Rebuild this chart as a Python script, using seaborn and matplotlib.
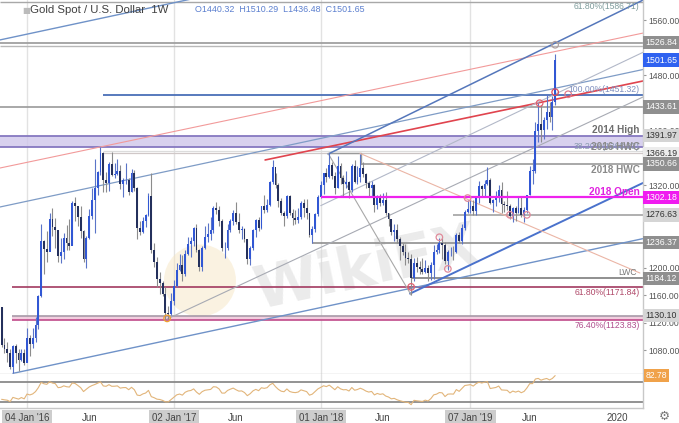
import numpy as np
import pandas as pd
import matplotlib
matplotlib.use('Agg')
import matplotlib.pyplot as plt
import matplotlib.transforms as mtransforms
from matplotlib.patches import Ellipse
import seaborn as sns

# weekly candles, first week = Mon 02 Nov 2015
start = pd.Timestamp('2015-11-02')
first_open = 1142.0
last_open = 1440.32

close_2015 = [1088, 1081, 1076, 1056, 1086, 1075, 1065, 1076, 1061]
high_2015 = [1143, 1097, 1092, 1081, 1088, 1089, 1081, 1081, 1082]
low_2015 = [1084, 1075, 1062, 1052, 1046, 1061, 1049, 1064, 1058]

close_2016 = [1098, 1089, 1097, 1117, 1158, 1239, 1227, 1222, 1271, 1259, 1254, 1217, 1222,
              1243, 1235, 1232, 1294, 1290, 1273, 1253, 1213, 1243, 1275, 1298, 1316, 1339,
              1366, 1327, 1323, 1351, 1335, 1336, 1341, 1321, 1327, 1328, 1310, 1337, 1316,
              1257, 1251, 1267, 1276, 1304, 1225, 1208, 1183, 1177, 1161, 1134, 1133, 1152]
high_2016 = [1112, 1102, 1112, 1128, 1160, 1263, 1240, 1253, 1280, 1287, 1272, 1255, 1243,
             1250, 1262, 1271, 1297, 1303, 1285, 1289, 1255, 1246, 1285, 1315, 1358, 1340,
             1375, 1368, 1339, 1353, 1368, 1352, 1358, 1349, 1330, 1352, 1330, 1344, 1342,
             1317, 1267, 1273, 1278, 1308, 1338, 1236, 1216, 1194, 1181, 1172, 1144, 1163]
low_2016 = [1062, 1071, 1083, 1091, 1111, 1157, 1191, 1208, 1226, 1246, 1228, 1208, 1206,
            1212, 1226, 1225, 1233, 1268, 1260, 1243, 1208, 1200, 1242, 1271, 1250, 1306,
            1334, 1310, 1310, 1311, 1333, 1330, 1334, 1314, 1302, 1322, 1306, 1310, 1312,
            1241, 1248, 1250, 1259, 1275, 1221, 1201, 1171, 1161, 1158, 1123, 1125, 1131]

close_2017 = [1173, 1196, 1204, 1191, 1220, 1234, 1239, 1257, 1226, 1201, 1229, 1245, 1249,
              1254, 1286, 1284, 1268, 1228, 1228, 1254, 1268, 1280, 1266, 1254, 1256, 1242,
              1212, 1228, 1254, 1269, 1258, 1289, 1284, 1291, 1325, 1346, 1320, 1297, 1280,
              1275, 1304, 1280, 1272, 1269, 1274, 1294, 1287, 1280, 1248, 1256, 1278, 1303]
high_2017 = [1182, 1207, 1219, 1218, 1226, 1245, 1244, 1259, 1264, 1227, 1231, 1261, 1265,
             1273, 1289, 1295, 1289, 1271, 1237, 1264, 1270, 1283, 1296, 1280, 1260, 1258,
             1242, 1231, 1256, 1270, 1274, 1290, 1306, 1300, 1326, 1357, 1337, 1323, 1301,
             1282, 1306, 1306, 1285, 1284, 1287, 1297, 1299, 1299, 1280, 1261, 1280, 1305]
low_2017 = [1146, 1172, 1195, 1180, 1188, 1218, 1216, 1232, 1223, 1195, 1195, 1227, 1237,
            1240, 1250, 1278, 1261, 1224, 1214, 1226, 1251, 1262, 1263, 1250, 1241, 1237,
            1205, 1204, 1225, 1245, 1253, 1256, 1280, 1281, 1290, 1322, 1316, 1288, 1277,
            1260, 1272, 1276, 1262, 1263, 1265, 1271, 1274, 1271, 1244, 1236, 1252, 1275]

close_2018 = [1320, 1338, 1332, 1349, 1333, 1315, 1347, 1330, 1322, 1324, 1313, 1347, 1325,
              1332, 1345, 1336, 1323, 1315, 1320, 1291, 1302, 1294, 1298, 1279, 1270, 1252,
              1255, 1241, 1231, 1223, 1214, 1212, 1184.12, 1206, 1201, 1198, 1194, 1200, 1192,
              1203, 1222, 1226, 1235, 1233, 1209, 1222, 1223, 1222, 1248, 1238, 1257, 1281]
high_2018 = [1326, 1338, 1345, 1366, 1354, 1339, 1362, 1352, 1335, 1341, 1326, 1350, 1356,
             1348, 1365, 1354, 1338, 1326, 1326, 1322, 1306, 1307, 1308, 1310, 1280, 1271,
             1263, 1263, 1245, 1236, 1234, 1223, 1220, 1214, 1215, 1209, 1214, 1211, 1204,
             1208, 1233, 1234, 1243, 1243, 1237, 1226, 1230, 1231, 1250, 1251, 1263, 1283]
low_2018 = [1301, 1307, 1325, 1330, 1329, 1307, 1315, 1321, 1302, 1316, 1301, 1310, 1323,
            1322, 1325, 1331, 1315, 1302, 1304, 1281, 1285, 1289, 1291, 1276, 1261, 1247,
            1238, 1236, 1211, 1218, 1204, 1206, 1160, 1180, 1193, 1191, 1191, 1192, 1180,
            1182, 1183, 1220, 1221, 1212, 1205, 1196, 1217, 1211, 1221, 1236, 1234, 1255]

close_2019 = [1285, 1289, 1282, 1303, 1318, 1314, 1322, 1328, 1294, 1298, 1302, 1313, 1292,
              1291, 1290, 1275, 1286, 1280, 1286, 1277, 1284, 1305, 1341, 1341, 1399, 1409,
              1400, 1415, 1426, 1419, 1441, 1501.65]
high_2019 = [1298, 1298, 1298, 1304, 1326, 1320, 1327, 1346, 1330, 1299, 1311, 1320, 1325,
             1297, 1311, 1292, 1288, 1289, 1304, 1303, 1288, 1306, 1348, 1358, 1411, 1439,
             1437, 1419, 1453, 1441, 1449, 1510.29]
low_2019 = [1279, 1279, 1276, 1277, 1294, 1303, 1302, 1320, 1292, 1281, 1290, 1296, 1280,
            1281, 1284, 1270, 1266, 1267, 1279, 1273, 1266, 1279, 1306, 1322, 1338, 1382,
            1382, 1387, 1401, 1412, 1400, 1436.48]

# closes before the first candle, only to warm up the RSI
rsi_warmup = [1172, 1168, 1157, 1132, 1085, 1095, 1094, 1113, 1160, 1134, 1121, 1104,
              1137, 1146, 1137, 1156, 1177, 1163, 1142]

closes = close_2015 + close_2016 + close_2017 + close_2018 + close_2019
highs = high_2015 + high_2016 + high_2017 + high_2018 + high_2019
lows = low_2015 + low_2016 + low_2017 + low_2018 + low_2019

df = pd.DataFrame({'close': closes, 'high': highs, 'low': lows})
df['open'] = df['close'].shift(1)
df.loc[0, 'open'] = first_open
df.loc[len(df) - 1, 'open'] = last_open
df['week'] = np.arange(len(df))

s = pd.Series(rsi_warmup + closes, dtype=float)
d = s.diff()
gain = d.clip(lower=0).ewm(alpha=1 / 14, adjust=False).mean()
loss = (-d.clip(upper=0)).ewm(alpha=1 / 14, adjust=False).mean()
df['rsi'] = (100 - 100 / (1 + gain / loss)).iloc[len(rsi_warmup):].values

# levels with a box on the price scale
box_prices = [1526.84, 1433.61, 1391.97, 1366.19, 1350.66, 1276.63, 1236.37, 1184.12, 1130.10]
box_face = ['#8f8f8f', '#8f8f8f', '#d5d5d5', '#ececec', '#8f8f8f', '#d5d5d5', '#8f8f8f', '#8f8f8f', '#d5d5d5']
box_text = ['white', 'white', '#333333', '#333333', 'white', '#333333', 'white', 'white', '#333333']
last_price = 1501.65
open_2018 = 1302.18
scale_ticks = [1080, 1120, 1160, 1200, 1320, 1400, 1480, 1560]

fib_prices = [1586.71, 1451.32, 1368.83, 1171.84, 1123.83]
fib_labels = ['61.80%(1586.71)', '100.00%(1451.32)', '38.20%(1368.83)', '61.80%(1171.84)', '76.40%(1123.83)']
fib_colors = ['#7f9c9c', '#7f8fbf', '#8a9ab0', '#b04a6a', '#b0508e']

# trend lines: week0, price0, week1, price1
trend_lines = [
    (4, 1046, 227.1, 1242, '#6f92c8', 1.0),
    (-0.6, 1288, 227.1, 1488, '#7f9cc6', 0.9),
    (-0.6, 1531, 227.1, 1731, '#6f92c8', 1.0),
    (-0.6, 1344.7, 227.1, 1541, '#f29a9a', 0.8),
    (93.3, 1356.4, 227.1, 1471.3, '#e0444e', 1.2),
    (115.6, 1365, 227.1, 1589, '#5577bb', 1.1),
    (144.6, 1162, 227.1, 1323, '#4a72cc', 1.4),
    (58.6, 1125, 227.1, 1448, '#a7aab3', 0.8),
    (113, 1290, 227.1, 1513, '#b2b8c8', 0.8),
    (115.6, 1366, 145, 1160, '#a8a8a8', 0.8),
    (126.9, 1366, 226, 1192, '#ebb5a5', 0.8),
]

marker_weeks = [190.5, 196, 200.6, 196, 58.6, 145, 155, 158, 165, 180, 186]
marker_prices = [1439, 1455, 1452, 1524, 1126, 1171.8, 1244, 1198, 1301, 1276.6, 1276.6]
marker_colors = ['#e06070', '#e04a5a', '#e07a8a', '#b0a0a0', '#f0a030', '#e06070',
                 '#e08a9a', '#e08a9a', '#e08a9a', '#e08a9a', '#e08a9a']

x_min, x_max = -0.57, 227.1
y_min, y_max = 1045.1, 1589.1

sns.set_theme(style='white')
plt.rcParams['font.family'] = ['Liberation Sans', 'DejaVu Sans']

fig = plt.figure(figsize=(6.79, 4.23), dpi=100)
ax = fig.add_axes([0, 1 - 374 / 423, 643 / 679, 374 / 423])
ax2 = fig.add_axes([0, 1 - 408 / 423, 643 / 679, 34 / 423])

for a in (ax, ax2):
    a.set_xlim(x_min, x_max)
    for sp in ('left', 'top'):
        a.spines[sp].set_visible(False)
    for sp in ('right', 'bottom'):
        a.spines[sp].set_color('#c8c8c8')
        a.spines[sp].set_linewidth(1)

ax.set_ylim(y_min, y_max)

# year grid lines
year_dates = ['2016-01-04', '2017-01-02', '2018-01-01', '2019-01-07']
year_labels = ["04 Jan '16", "02 Jan '17", "01 Jan '18", "07 Jan '19"]
jun_dates = ['2016-06-06', '2017-06-05', '2018-06-04', '2019-06-03']
yw = [(pd.Timestamp(t) - start).days / 7 for t in year_dates]
jw = [(pd.Timestamp(t) - start).days / 7 for t in jun_dates]
w2020 = (pd.Timestamp('2020-01-06') - start).days / 7
for a in (ax, ax2):
    for w in yw:
        a.axvline(w, color='#e2e2e2', lw=1, zorder=0)


def hline(price, w0, color, lw, z=2):
    ax.plot([w0, x_max], [price, price], color=color, lw=lw, zorder=z, solid_capstyle='butt')


# bands
ax.fill_between([x_min, x_max], 1376, 1391.97, color='#cfc6ea', alpha=0.8, zorder=1.5, lw=0)
hline(1391.97, x_min, '#8678c0', 1.3)
hline(1376, x_min, '#8678c0', 1.3)
ax.fill_between([3.7, x_max], 1123.83, 1130.10, color='#f1c9dc', alpha=0.9, zorder=1.5, lw=0)
hline(1130.10, 3.7, '#a89aa8', 1.2)
hline(1123.83, 3.7, '#c04a8a', 1.2)
hline(1171.84, 3.7, '#a23a60', 1.2)

# horizontal levels
hline(1586.71, x_min, '#a8a8a8', 1.0)
hline(1526.84, x_min, '#a0a0a0', 1.3)
hline(1521.5, x_min, '#b8b8b8', 1.0)
hline(1451.32, 36, '#4a6fb8', 1.3)
hline(1433.61, x_min, '#9a9a9a', 1.2)
hline(1368.83, 36, '#dcdcdc', 0.9)
hline(1366.19, 36, '#d0c8c8', 0.9)
hline(1350.66, 127.3, '#9a9a9a', 1.2)
ax.plot([115.6, 127.3, 127.3], [1366, 1366, 1350.66], color='#9a9a9a', lw=1.0, zorder=2)
hline(open_2018, 113, '#ee22ee', 1.6, z=4)
hline(1276.63, 160, '#9a9a9a', 1.1)
hline(1236.37, 110, '#8f8f8f', 1.2)
hline(1184.12, 145, '#8f8f8f', 1.4)

for w0, p0, w1, p1, c, lw in trend_lines:
    ax.plot([w0, w1], [p0, p1], color=c, lw=lw, zorder=2.2)

# watermark
ax.add_patch(Ellipse((0.311, 0.25), 72 / 643, 72 / 374, transform=ax.transAxes,
                     fc='#f6e4bd', ec='none', alpha=0.45, zorder=0.4))
ax.text(0.57, 0.28, 'WikiFX', transform=ax.transAxes, fontsize=42, fontweight='bold',
        color='#d8d8d8', alpha=0.5, rotation=12, ha='center', va='center', zorder=0.5,
        family='DejaVu Sans')

# candles
up = df['close'] >= df['open']
body_col = np.where(up, '#3157d4', '#24305c')
wick_col = np.where(up, '#5a74c8', '#8c8c8c')
ax.vlines(df['week'], df['low'], df['high'], colors=wick_col, lw=0.8, zorder=3)
body_lo = np.minimum(df['open'], df['close'])
body_h = np.maximum(np.abs(df['close'] - df['open']), 0.8)
ax.bar(df['week'], body_h, bottom=body_lo, width=0.66, color=body_col, lw=0, zorder=3.2)

ax.scatter(marker_weeks, marker_prices, s=22, facecolors='none', edgecolors=marker_colors,
           linewidths=0.9, zorder=5)

# level text on the chart
xr = 0.995
tr = mtransforms.blended_transform_factory(ax.transAxes, ax.transData)
for p, lab, c in zip(fib_prices, fib_labels, fib_colors):
    va = 'bottom' if p in (1451.32, 1368.83) else 'top'
    off = 0.8 if va == 'bottom' else -1.0
    ax.text(xr, p + off, lab, transform=tr, ha='right', va=va, fontsize=6.2, color=c, zorder=6)
ax.text(xr, 1393, '2014 High', transform=tr, ha='right', va='bottom', fontsize=7.2,
        fontweight='bold', color='#6e6e6e', zorder=6)
ax.text(xr, 1367.5, '2016 HWC', transform=tr, ha='right', va='bottom', fontsize=7.2,
        fontweight='bold', color='#8a8a8a', zorder=6)
ax.text(xr, 1348.5, '2018 HWC', transform=tr, ha='right', va='top', fontsize=7.2,
        fontweight='bold', color='#8a8a8a', zorder=6)
ax.text(xr, 1302.8, '2018 Open', transform=tr, ha='right', va='bottom', fontsize=7.2,
        fontweight='bold', color='#e020e0', zorder=6)
ax.text(0.99, 1185.5, 'LWC', transform=tr, ha='right', va='bottom', fontsize=6.2,
        color='#777777', zorder=6)

# price scale
ax.yaxis.tick_right()
ax.set_yticks(scale_ticks)
ax.set_yticklabels(['%.2f' % v for v in scale_ticks])
ax.tick_params(axis='y', length=2.5, width=0.8, color='#999999', pad=1.5, labelsize=6.2,
               labelcolor='#555555', right=True, left=False)
ax.set_xticks([])


def price_box(p, text, fc, tc):
    ax.annotate(text, xy=(1, p), xycoords=tr, xytext=(1.8, 0), textcoords='offset points',
                ha='left', va='center', fontsize=6.3, color=tc, annotation_clip=False,
                bbox=dict(boxstyle='square,pad=0.25', fc=fc, ec='none'), zorder=10)


for p, fc, tc in zip(box_prices, box_face, box_text):
    price_box(p, '%.2f' % p, fc, tc)
price_box(open_2018, '%.2f' % open_2018, '#f01cf0', 'white')
price_box(last_price, '%.2f' % last_price, '#2f62f0', 'white')

# RSI pane
sns.lineplot(data=df, x='week', y='rsi', ax=ax2, color='#e2b57a', lw=0.8, legend=False)
ax2.set_ylim(18, 86)
ax2.axhline(70, color='#8a8a8a', lw=1.3, zorder=1)
ax2.axhline(30, color='#8a8a8a', lw=1.3, zorder=1)
ax2.set_ylabel('')
ax2.set_xlabel('')
ax2.set_yticks([])
tr2 = mtransforms.blended_transform_factory(ax2.transAxes, ax2.transData)
last_rsi = df['rsi'].iloc[-1]
ax2.annotate('%.2f' % last_rsi, xy=(1, last_rsi), xycoords=tr2, xytext=(1.8, 0),
             textcoords='offset points', ha='left', va='center', fontsize=6.2, color='white',
             annotation_clip=False, bbox=dict(boxstyle='square,pad=0.2', fc='#f0a24a', ec='none'))

ticks = [yw[0], jw[0], yw[1], jw[1], yw[2], jw[2], yw[3], jw[3], w2020]
labels = [year_labels[0], 'Jun', year_labels[1], 'Jun', year_labels[2], 'Jun', year_labels[3], 'Jun', '2020']
ax2.set_xticks(ticks)
ax2.set_xticklabels(labels)
ax2.tick_params(axis='x', length=0, pad=3.5, labelsize=7, labelcolor='#444444')
for t in ax2.get_xticklabels():
    if "'" in t.get_text():
        t.set_bbox(dict(boxstyle='square,pad=0.3', fc='#cdcdcd', ec='none'))

# header
fig.text(22 / 679, 1 - 10 / 423, '\u25a0', fontsize=6, color='#bbbbbb', va='center',
         family='DejaVu Sans')
fig.text(30 / 679, 1 - 10 / 423, 'Gold Spot / U.S. Dollar  1W', fontsize=8.2, color='#404040', va='center')
fig.text(195 / 679, 1 - 10 / 423, 'O1440.32  H1510.29  L1436.48  C1501.65', fontsize=6.4,
         color='#5b7fcf', va='center')
fig.text(664 / 679, 1 - 416 / 423, '\u2699', fontsize=9, color='#777777', ha='center', va='center',
         family='DejaVu Sans')

fig.savefig('out.png', dpi=100)
